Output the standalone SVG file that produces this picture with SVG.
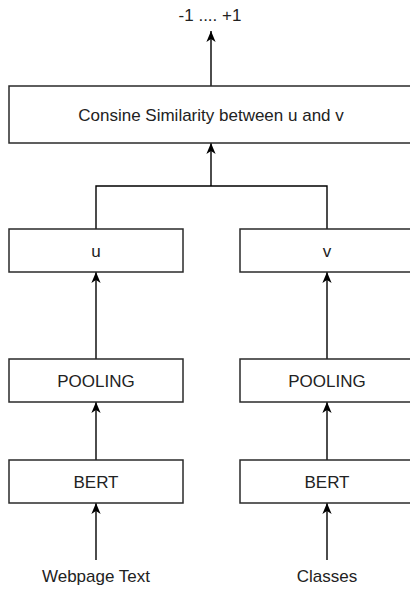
<svg xmlns="http://www.w3.org/2000/svg" width="410" height="589" viewBox="0 0 410 589">
  <style>
    .box { fill: #ffffff; stroke: #2a2a2a; stroke-width: 1.5; }
    .lbl { font-family: "Liberation Sans", Arial, sans-serif; font-size: 17px; fill: #222222; text-anchor: middle; }
    .edge { fill: none; stroke: #000000; stroke-width: 1.4; }
  </style>
  <defs>
    <marker id="arrow" viewBox="0 0 10 10" refX="10" refY="5" markerWidth="11" markerHeight="11" markerUnits="userSpaceOnUse" orient="auto">
      <path d="M0,0.8 L10,5 L0,9.2 L2.8,5 z" fill="#000000"/>
    </marker>
  </defs>
  <rect width="410" height="589" fill="#ffffff"/>

  <g id="connectors">
    <path class="edge" d="M96,560 V503" marker-end="url(#arrow)"/>
    <path class="edge" d="M327,560 V503" marker-end="url(#arrow)"/>
    <path class="edge" d="M96,460 V402" marker-end="url(#arrow)"/>
    <path class="edge" d="M327,460 V402" marker-end="url(#arrow)"/>
    <path class="edge" d="M96,359 V272" marker-end="url(#arrow)"/>
    <path class="edge" d="M327,359 V272" marker-end="url(#arrow)"/>
    <path class="edge" d="M96,229 V186 H327 V229"/>
    <path class="edge" d="M211,186 V143" marker-end="url(#arrow)"/>
    <path class="edge" d="M211,86 V31" marker-end="url(#arrow)"/>
  </g>

  <g id="output">
    <text class="lbl" x="210" y="20.5">-1 .... +1</text>
  </g>

  <g id="similarity">
    <rect class="box" x="9" y="86" width="406" height="57"/>
    <text class="lbl" x="211" y="120.5">Consine Similarity between u and v</text>
  </g>

  <g id="u">
    <rect class="box" x="9" y="229" width="174" height="43"/>
    <text class="lbl" x="96" y="256.5">u</text>
  </g>
  <g id="v">
    <rect class="box" x="240" y="229" width="174" height="43"/>
    <text class="lbl" x="327" y="256.5">v</text>
  </g>

  <g id="pooling-left">
    <rect class="box" x="9" y="359" width="174" height="43"/>
    <text class="lbl" x="96" y="386.5">POOLING</text>
  </g>
  <g id="pooling-right">
    <rect class="box" x="240" y="359" width="174" height="43"/>
    <text class="lbl" x="327" y="386.5">POOLING</text>
  </g>

  <g id="bert-left">
    <rect class="box" x="9" y="460" width="174" height="43"/>
    <text class="lbl" x="96" y="487.5">BERT</text>
  </g>
  <g id="bert-right">
    <rect class="box" x="240" y="460" width="174" height="43"/>
    <text class="lbl" x="327" y="487.5">BERT</text>
  </g>

  <g id="webpage-text">
    <text class="lbl" x="96" y="582">Webpage Text</text>
  </g>
  <g id="classes">
    <text class="lbl" x="327" y="582">Classes</text>
  </g>
</svg>
